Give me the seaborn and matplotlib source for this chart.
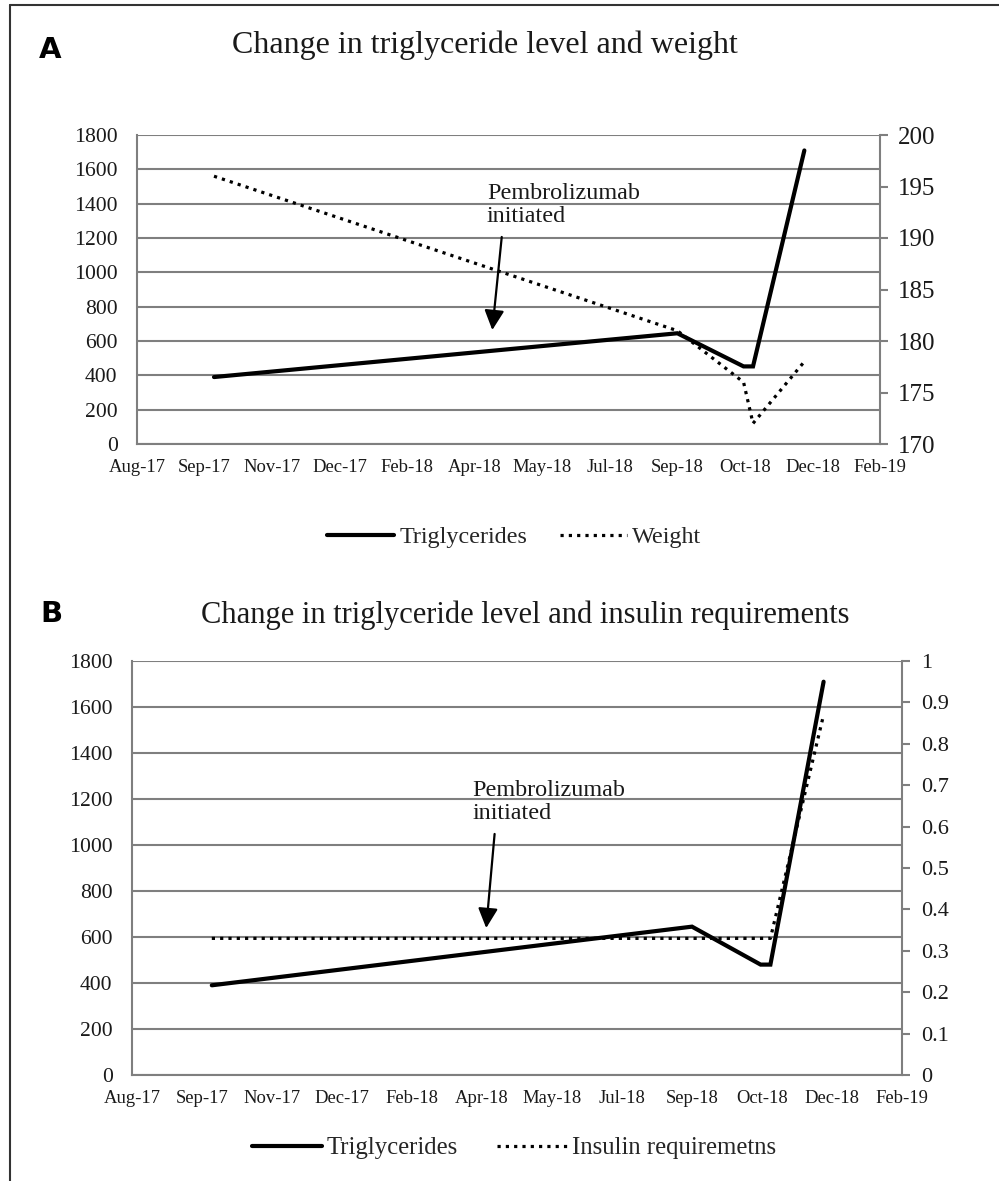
import pandas as pd
import matplotlib
matplotlib.use("Agg")
import matplotlib.pyplot as plt
import matplotlib.ticker as mticker
import seaborn as sns
from matplotlib.lines import Line2D

# --- DATA ---
tri_dates = ["2017-09-27", "2018-09-05", "2018-10-24", "2018-10-31", "2018-12-08"]
tri_values_a = [390, 645, 452, 452, 1710]
tri_values_b = [390, 645, 480, 480, 1710]
weight_dates = ["2017-09-27", "2018-09-05", "2018-10-24", "2018-10-31", "2018-12-08"]
weight_values = [196, 181, 176, 172, 178]
insulin_dates = ["2017-09-27", "2018-09-05", "2018-10-24", "2018-10-31", "2018-12-08"]
insulin_values = [0.33, 0.33, 0.33, 0.33, 0.87]

x_start = "2017-08-01"
x_step_days = 50
n_ticks = 12

left_ticks = list(range(0, 1801, 200))
weight_ticks = list(range(170, 201, 5))
insulin_ticks = [i / 10 for i in range(11)]

SERIF = ["Liberation Serif", "DejaVu Serif"]
GRID = "#7f7f7f"
INK = "#1a1a1a"

sns.set_theme(style="white")
plt.rcParams["font.family"] = SERIF

W, H = 999, 1181
fig = plt.figure(figsize=(W / 100, H / 100), dpi=100)


def px_box(left, right, top, bottom):
    return [left / W, 1 - bottom / H, (right - left) / W, (bottom - top) / H]


x_ticks = pd.date_range(x_start, periods=n_ticks, freq=f"{x_step_days}D")


def style_main(ax):
    ax.set_xlim(x_ticks[0], x_ticks[-1])
    ax.set_xticks(x_ticks)
    ax.set_xticklabels([d.strftime("%b-%y") for d in x_ticks], fontsize=13.4, color=INK)
    ax.set_ylim(0, 1800)
    ax.set_yticks(left_ticks)
    ax.set_yticklabels([str(v) for v in left_ticks], fontsize=15.6, color=INK)
    ax.tick_params(axis="y", length=0, pad=14)
    ax.tick_params(axis="x", length=0, pad=10.5)
    ax.yaxis.grid(True, color=GRID, lw=1.5)
    ax.xaxis.grid(False)
    for side in ["left", "bottom"]:
        ax.spines[side].set_color(GRID)
        ax.spines[side].set_linewidth(1.5)
    for side in ["top", "right"]:
        ax.spines[side].set_visible(False)
    ax.set_xlabel("")
    ax.set_ylabel("")


def style_right(ax2, ticks, lim, labelsize, pad):
    ax2.set_ylim(*lim)
    ax2.set_yticks(ticks)
    ax2.yaxis.set_major_formatter(mticker.FuncFormatter(lambda v, p: f"{v:g}"))
    ax2.tick_params(axis="y", length=6, width=1.5, color=GRID, pad=pad,
                    labelsize=labelsize, labelcolor=INK, direction="out")
    ax2.grid(False)
    for side in ["left", "top", "bottom"]:
        ax2.spines[side].set_visible(False)
    ax2.spines["right"].set_color(GRID)
    ax2.spines["right"].set_linewidth(1.5)
    ax2.set_ylabel("")


dot_style = dict(color="black", lw=2.3, linestyle=(0, (1, 1.6)), dash_capstyle="butt")
solid_style = dict(color="black", lw=3.0, solid_joinstyle="miter")

# ---------------- Panel A ----------------
ax_a = fig.add_axes(px_box(137, 880, 135, 444))
df_tri_a = pd.DataFrame({"date": pd.to_datetime(tri_dates), "value": tri_values_a})
df_w = pd.DataFrame({"date": pd.to_datetime(weight_dates), "value": weight_values})
sns.lineplot(data=df_tri_a, x="date", y="value", ax=ax_a, estimator=None, **solid_style)
style_main(ax_a)
ax_a2 = ax_a.twinx()
sns.lineplot(data=df_w, x="date", y="value", ax=ax_a2, estimator=None, **dot_style)
style_right(ax_a2, weight_ticks, (170, 200), 18, 7)
ax_a2.set_xlim(x_ticks[0], x_ticks[-1])

ax_a.text(pd.Timestamp("2018-04-17"), 1392, "Pembrolizumab\ninitiated", fontsize=17.4,
          ha="left", va="center", linespacing=1.08, color=INK)
ax_a.annotate("", xy=(pd.Timestamp("2018-04-21"), 664), xytext=(pd.Timestamp("2018-04-28"), 1206),
              arrowprops=dict(arrowstyle="-|>", color="black", lw=1.6, mutation_scale=30,
                              shrinkA=0, shrinkB=0))

fig.text(485 / W, 1 - 45 / H, "Change in triglyceride level and weight", fontsize=23,
         ha="center", va="center", color=INK)
fig.text(50 / W, 1 - 50 / H, "A", fontsize=21, family="DejaVu Sans", weight="bold",
         ha="center", va="center", color="black")

handles_a = [Line2D([], [], **solid_style), Line2D([], [], **dot_style)]
fig.legend(handles_a, ["Triglycerides", "Weight"], loc="center", bbox_to_anchor=(514 / W, 1 - 537 / H),
           ncol=2, frameon=False, fontsize=17.4, handlelength=2.8, handletextpad=0.2,
           columnspacing=1.35, borderpad=0)

# ---------------- Panel B ----------------
ax_b = fig.add_axes(px_box(132, 902, 661, 1075))
df_tri_b = pd.DataFrame({"date": pd.to_datetime(tri_dates), "value": tri_values_b})
df_ins = pd.DataFrame({"date": pd.to_datetime(insulin_dates), "value": insulin_values})
sns.lineplot(data=df_tri_b, x="date", y="value", ax=ax_b, estimator=None, **solid_style)
style_main(ax_b)
ax_b2 = ax_b.twinx()
sns.lineplot(data=df_ins, x="date", y="value", ax=ax_b2, estimator=None, **dot_style)
style_right(ax_b2, insulin_ticks, (0, 1), 16, 8)
ax_b2.set_xlim(x_ticks[0], x_ticks[-1])

ax_b.text(pd.Timestamp("2018-04-01"), 1187, "Pembrolizumab\ninitiated", fontsize=17.4,
          ha="left", va="center", linespacing=1.08, color=INK)
ax_b.annotate("", xy=(pd.Timestamp("2018-04-11"), 639), xytext=(pd.Timestamp("2018-04-17"), 1048),
              arrowprops=dict(arrowstyle="-|>", color="black", lw=1.6, mutation_scale=30,
                              shrinkA=0, shrinkB=0))

fig.text(525 / W, 1 - 615 / H, "Change in triglyceride level and insulin requirements", fontsize=22,
         ha="center", va="center", color=INK)
fig.text(51 / W, 1 - 614 / H, "B", fontsize=21, family="DejaVu Sans", weight="bold",
         ha="center", va="center", color="black")

handles_b = [Line2D([], [], **solid_style), Line2D([], [], **dot_style)]
fig.legend(handles_b, ["Triglycerides", "Insulin requiremetns"], loc="center",
           bbox_to_anchor=(514 / W, 1 - 1148 / H), ncol=2, frameon=False, fontsize=17.8,
           handlelength=2.8, handletextpad=0.2, columnspacing=1.6, borderpad=0)

# outer frame (top and left edges)
fig.add_artist(Line2D([10 / W, 1], [1 - 5 / H, 1 - 5 / H], transform=fig.transFigure, color="#333333", lw=1.5))
fig.add_artist(Line2D([10 / W, 10 / W], [0, 1 - 5 / H], transform=fig.transFigure, color="#333333", lw=1.5))

fig.savefig("out.png", dpi=100, facecolor="white")
